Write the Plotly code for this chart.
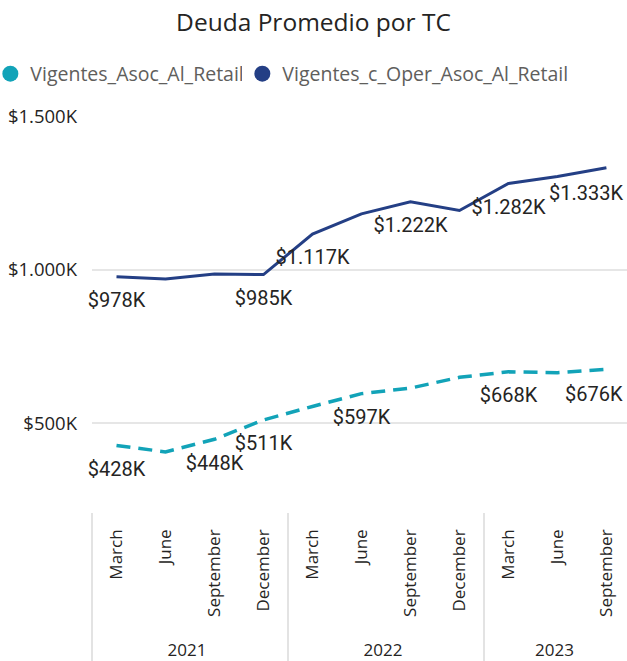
import plotly.graph_objects as go

# ---- data ----
years = ["2021", "2021", "2021", "2021", "2022", "2022", "2022", "2022", "2023", "2023", "2023"]
months = ["March", "June", "September", "December", "March", "June", "September", "December",
          "March", "June", "September"]
vig_asoc = [428, 407, 448, 511, 555, 597, 615, 650, 668, 665, 676]
vig_oper = [978, 971, 987, 985, 1117, 1183, 1222, 1194, 1282, 1305, 1333]
label_idx_asoc = [0, 2, 3, 5, 8, 10]
label_idx_oper = [0, 3, 4, 6, 8, 10]
series_names = ["Vigentes_Asoc_Al_Retail", "Vigentes_c_Oper_Asoc_Al_Retail"]
y_ticks = [500, 1000, 1500]

C_ASOC = "#12A3B8"
C_OPER = "#243F85"
FONT = "Segoe UI, Open Sans, sans-serif"
LABEL_FONT = "Roboto, DIN, sans-serif"
LABEL_COLOR = "#252423"


def invisible(s):
    return "<span style='color:rgba(0,0,0,0)'>" + s + "</span>"


def fmt_k(v):
    return "$" + f"{v:,.0f}".replace(",", ".") + "K"


def templates(idx, n):
    # the last point's label is drawn as an annotation so it can be pulled inside the frame
    return ["$%{y:,.0f}K" if (i in idx and i != n - 1) else "" for i in range(n)]


# invisible lead-in lengthens rotated month labels so the year row sits lower
x = [years, [invisible("00") + m for m in months]]

fig = go.Figure()
series = [(vig_asoc, label_idx_asoc, C_ASOC, dict(color=C_ASOC, width=3.5, dash="14px,8px")),
          (vig_oper, label_idx_oper, C_OPER, dict(color=C_OPER, width=3))]
for (vals, idx, col, line), nm in zip(series, series_names):
    fig.add_trace(go.Scatter(
        x=x, y=vals, mode="lines+markers+text", name=nm,
        line=line,
        marker=dict(size=23, color="rgba(0,0,0,0)"),
        texttemplate=templates(idx, len(vals)),
        textposition="bottom center",
        textfont=dict(family=LABEL_FONT, size=20, color=LABEL_COLOR),
        cliponaxis=False, showlegend=False, hoverinfo="skip",
    ))
    if len(vals) - 1 in idx:
        fig.add_annotation(x=len(vals) - 1, y=vals[-1], xref="x", yref="y",
                           text=fmt_k(vals[-1]), showarrow=False,
                           xanchor="right", yanchor="top", xshift=19, yshift=-11,
                           font=dict(family=LABEL_FONT, size=20, color=LABEL_COLOR))

# legend entries (circle markers like the original), one legend box per entry
for nm, c, lg in zip(series_names, [C_ASOC, C_OPER], ["legend", "legend2"]):
    fig.add_trace(go.Scatter(x=[None], y=[None], mode="markers", name=nm, legend=lg,
                             marker=dict(size=16, color=c, symbol="circle")))

legend_style = dict(orientation="h", xref="paper", yref="paper", xanchor="left",
                    y=1.106, yanchor="middle", itemwidth=30,
                    font=dict(family=FONT, size=19.5, color="#605E5C"))

fig.update_layout(
    width=627, height=661,
    paper_bgcolor="white", plot_bgcolor="white",
    separators=",.",
    margin=dict(l=92, r=0, t=116, b=149, autoexpand=False),
    title=dict(text="Deuda Promedio por TC", x=0.5, xref="container", xanchor="center",
               y=1 - 22 / 661, yref="container", yanchor="middle",
               font=dict(family=FONT, size=24.5, color="#252423")),
    legend=dict(x=-0.19, **legend_style),
    legend2=dict(x=0.281, **legend_style),
    xaxis=dict(type="multicategory", range=[-0.5, 10.42],
               tickangle=-90, tickfont=dict(family=FONT, size=17, color="#252423"),
               showdividers=True, dividercolor="#e3e3e3", dividerwidth=2,
               showgrid=False, showline=False, ticks="", ticklabelstandoff=13),
    yaxis=dict(range=[211, 1502], tickvals=y_ticks, ticktext=[fmt_k(v) for v in y_ticks],
               showgrid=True, gridcolor="#e6e6e6", gridwidth=2,
               zeroline=False, ticklabelstandoff=14,
               tickfont=dict(family=FONT, size=18.5, color="#252423")),
)

fig.write_html("out.html", config={"displayModeBar": False},
               post_script="document.body.style.margin='0';")
